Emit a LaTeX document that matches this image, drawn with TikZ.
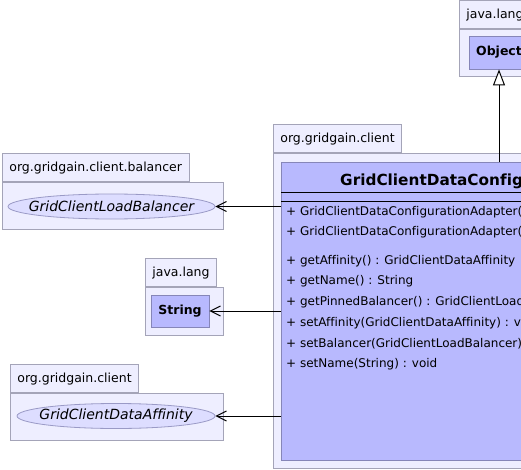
\documentclass[tikz,border=0pt]{standalone}
\usepackage{fontspec}
\setmainfont{DejaVu Sans}[Ligatures=NoCommon]
\usepackage{tikz}
\usetikzlibrary{positioning,arrows.meta,shapes.geometric}
\definecolor{pkgfill}{HTML}{EEEEFF}
\definecolor{pkgline}{HTML}{A4A4B8}
\definecolor{clsfill}{HTML}{B8B9FE}
\definecolor{clsline}{HTML}{8686B8}
\definecolor{ifcfill}{HTML}{DDDDFF}
\definecolor{ifcline}{HTML}{9A9AC6}
% keeps the ellipse at its fixed size
\newcommand{\ifctext}[1]{\makebox[0pt]{#1}}

\begin{document}
\begin{tikzpicture}[x=1pt, y=-1pt, font=\fontsize{12.5}{14}\selectfont]
    \tikzstyle{pkg}=[draw=pkgline, fill=pkgfill, line width=0.8pt, inner sep=0pt,
                     anchor=north west]
    \tikzstyle{tab}=[pkg, anchor=south west, minimum height=28pt, inner xsep=7pt]
    \tikzstyle{cls}=[draw=clsline, fill=clsfill, line width=0.8pt, inner sep=0pt,
                     font=\fontsize{12.5}{14}\selectfont\bfseries]
    \tikzstyle{ifc}=[ellipse, draw=ifcline, fill=ifcfill, line width=0.8pt,
                     inner sep=0pt, font=\fontsize{14}{16}\selectfont\itshape]
    \tikzstyle{member}=[anchor=west, inner sep=0pt, font=\fontsize{12}{14}\selectfont]
    \tikzstyle{dep}=[draw, line width=1pt, -{Straight Barb[length=10pt, width=10pt]}]
    \tikzstyle{gen}=[draw, line width=1pt,
                     -{Triangle[open, length=16pt, width=12pt, fill=white]}]

    \clip (0,0) rectangle (521,470);
    \fill[white] (0,0) rectangle (521,470);

    % java.lang (Object)
    \node[pkg, minimum width=110pt, minimum height=47pt] (objPkg) at (459,29) {};
    \node[tab] (objTab) at (objPkg.north west) {java.lang};
    \node[cls, minimum width=60pt, minimum height=33pt] (obj) at (499,52.5) {Object};

    % org.gridgain.client (adapter)
    \node[pkg, minimum width=540pt, minimum height=315pt] (mainPkg) at (273,153) {};
    \node[tab] (mainTab) at (mainPkg.north west) {org.gridgain.client};
    \node[cls, anchor=north west, minimum width=520pt, minimum height=298pt]
          (cfg) at (281,162) {};
    \node[anchor=west, inner sep=0pt, font=\fontsize{15.3}{17}\selectfont\bfseries]
          (cfgName) at (340,181) {GridClientDataConfigurationAdapter};
    \draw[line width=1pt] (cfg.west |- 0,193) -- (cfg.east |- 0,193);
    \draw[line width=1pt] (cfg.west |- 0,202) -- (cfg.east |- 0,202);

    \node[member] (ctor1) at (286,212) {+ GridClientDataConfigurationAdapter()};
    \node[member] (ctor2) at (286,232.6)
          {+ GridClientDataConfigurationAdapter(GridClientDataConfiguration)};
    \node[member] (m1) at (286,261)   {+ getAffinity() : GridClientDataAffinity};
    \node[member] (m2) at (286,281.6) {+ getName() : String};
    \node[member] (m3) at (286,302.2) {+ getPinnedBalancer() : GridClientLoadBalancer};
    \node[member] (m4) at (286,322.8) {+ setAffinity(GridClientDataAffinity) : void};
    \node[member] (m5) at (286,343.4) {+ setBalancer(GridClientLoadBalancer) : void};
    \node[member] (m6) at (286,364)   {+ setName(String) : void};

    % org.gridgain.client.balancer
    \node[pkg, minimum width=221pt, minimum height=47pt] (balPkg) at (2,182) {};
    \node[tab] (balTab) at (balPkg.north west) {org.gridgain.client.balancer};
    \node[ifc, minimum width=207pt, minimum height=25pt] (bal) at (111.5,206.5)
          {\ifctext{GridClientLoadBalancer}};

    % java.lang (String)
    \node[pkg, minimum width=78pt, minimum height=48pt] (strPkg) at (145,287) {};
    \node[tab] (strTab) at (strPkg.north west) {java.lang};
    \node[cls, minimum width=58pt, minimum height=32pt] (str) at (180,311) {String};

    % org.gridgain.client (affinity)
    \node[pkg, minimum width=213pt, minimum height=47pt] (affPkg) at (10,393) {};
    \node[tab] (affTab) at (affPkg.north west) {org.gridgain.client};
    \node[ifc, minimum width=198pt, minimum height=25pt] (aff) at (116,416)
          {\ifctext{GridClientDataAffinity}};

    \draw[gen] (cfg.north -| obj.south) -- (obj.south);
    \draw[dep] (cfg.west |- bal.east) -- (bal.east);
    \draw[dep] (cfg.west |- str.east) -- (str.east);
    \draw[dep] (cfg.west |- aff.east) -- (aff.east);
\end{tikzpicture}
\end{document}
